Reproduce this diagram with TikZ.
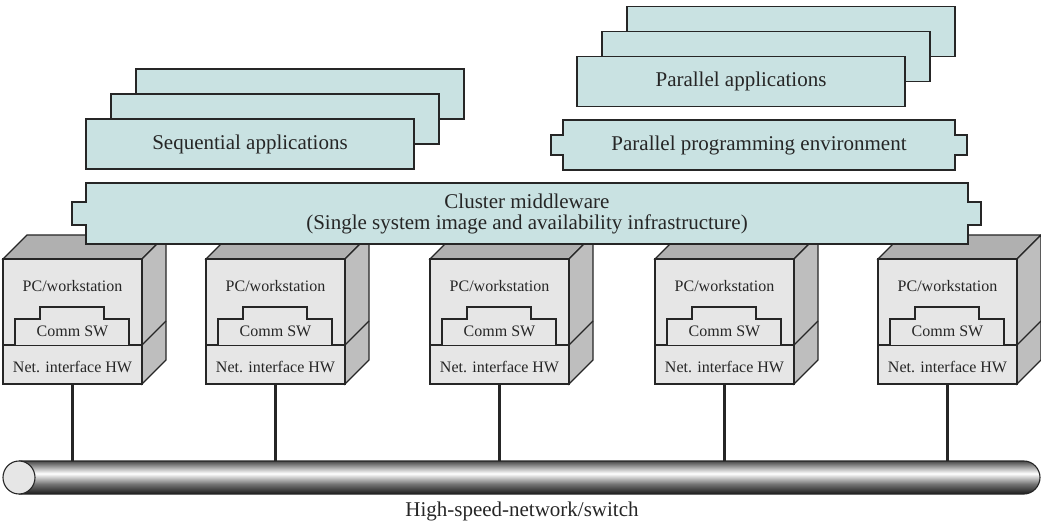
\documentclass[tikz,border=0pt]{standalone}
\usepackage{fontspec}
\setmainfont{Liberation Serif}
\definecolor{appfill}{RGB}{201,226,226}
\definecolor{edge}{RGB}{38,38,38}
\definecolor{pcfrontc}{RGB}{230,230,230}
\definecolor{pctopc}{RGB}{176,176,176}
\definecolor{pcsidec}{RGB}{190,190,190}
% y axis is flipped in the picture, so 0bp ends up at the visual top
\pgfdeclareverticalshading{pipeshade}{100bp}{color(0bp)=(black!90); color(25bp)=(black!90); color(40bp)=(black!55); color(56bp)=(white); color(63bp)=(black!25); color(75bp)=(black!72); color(100bp)=(black!72)}
\tikzset{
  edgeline/.style={draw=edge, line width=1.1pt, line join=miter},
  app/.style={edgeline, fill=appfill, minimum width=328pt, minimum height=50pt, inner sep=0pt, text=edge, font=\fontsize{21}{24}\selectfont},
  puzzle/.style={edgeline, fill=appfill},
  bigtext/.style={inner sep=0pt, text=edge, font=\fontsize{21}{21.5}\selectfont, align=center},
  pcfront/.style={edgeline, fill=pcfrontc, minimum width=139pt, minimum height=125pt, inner sep=0pt},
  pclabel/.style={inner sep=0pt, anchor=base, text=edge, font=\fontsize{16}{18}\selectfont},
  wire/.style={draw=edge, line width=2.3pt},
}
\newcommand\pcunit[2]{%
  \begin{scope}[shift={(#2,0)}]
    \draw[edgeline, fill=pctopc] (0,259) -- (24,235) -- (163,235) -- (139,259) -- cycle;
    \draw[edgeline, fill=pcsidec] (139,259) -- (163,235) -- (163,360) -- (139,384) -- cycle;
    \draw[edgeline] (139,345) -- (163,321);
    \node[pcfront] (#1) at (69.5,321.5) {};
    \draw[edgeline] (0,345) -- (139,345);
    \draw[edgeline, fill=pcfrontc] (12,345) -- (12,319) -- (37,319) -- (37,307) -- (101,307) -- (101,319) -- (126,319) -- (126,345);
    \node[pclabel] (#1t) at (69.5,292) {PC/workstation};
    \node[pclabel] (#1s) at (69.5,337) {Comm SW};
    \node[pclabel] (#1h) at (69.5,373) {Net. interface HW};
  \end{scope}}
\begin{document}
\begin{tikzpicture}[x=1pt, y=-1pt]
\useasboundingbox (0,0) rectangle (1041,526);

% Sequential applications stack
\node[app] (seq3) at (300,94) {};
\node[app] (seq2) at (275,119) {};
\node[app] (seq1) at (250,144) {Sequential applications};

% Parallel applications stack
\node[app] (par3) at (791,31.5) {};
\node[app] (par2) at (766,56.5) {};
\node[app] (par1) at (741,81.5) {Parallel applications};

% Parallel programming environment
\draw[puzzle] (563,120) -- (955,120) -- (955,135) -- (967,135) -- (967,155) -- (955,155) -- (955,170) -- (563,170) -- (563,155) -- (551,155) -- (551,135) -- (563,135) -- cycle;
\node[bigtext] (ppe) at (759,145) {Parallel programming environment};

% PC / workstation units
\pcunit{pc1}{3}
\pcunit{pc2}{206}
\pcunit{pc3}{430}
\pcunit{pc4}{655}
\pcunit{pc5}{878}

% Cluster middleware
\draw[puzzle] (86,183) -- (968,183) -- (968,202) -- (981,202) -- (981,225) -- (968,225) -- (968,244) -- (86,244) -- (86,225) -- (72,225) -- (72,202) -- (86,202) -- cycle;
\node[bigtext] (mw) at (527,214) {Cluster middleware\\(Single system image and availability infrastructure)};

% High-speed network pipe
\coordinate (net) at (522,461);
\coordinate (netL) at (19,477.5);
\shade[shading=pipeshade] (19,461) -- (1024,461) .. controls (1033,461) and (1040,469) .. (1040,477.5) .. controls (1040,486) and (1033,494) .. (1024,494) -- (19,494) -- cycle;
\draw[edgeline] (19,461) -- (1024,461) .. controls (1033,461) and (1040,469) .. (1040,477.5) .. controls (1040,486) and (1033,494) .. (1024,494) -- (19,494);
\draw[edgeline, fill=pcfrontc] (netL) ellipse [x radius=16, y radius=16.5];
\node[bigtext, anchor=base] (netlabel) at (522,516) {High-speed-network/switch};

% Connectors
\foreach \k in {1,...,5} {
  \draw[wire] (pc\k.south) -- (pc\k.south |- net);
}
\end{tikzpicture}
\end{document}
